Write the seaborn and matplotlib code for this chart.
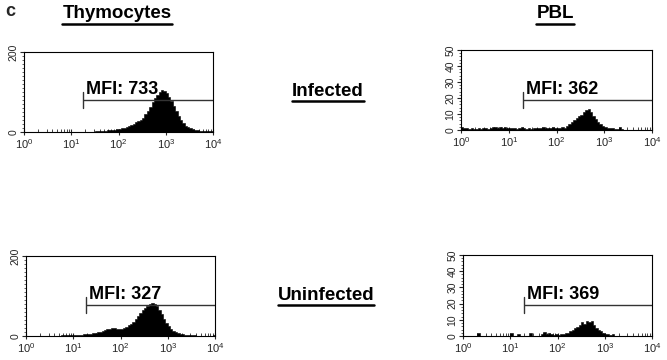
import numpy as np
import matplotlib
matplotlib.use("Agg")
import matplotlib.pyplot as plt
import matplotlib.ticker as mticker
from matplotlib.lines import Line2D
import seaborn as sns

sns.set_style("white")
plt.rcParams["font.family"] = ["Liberation Sans", "DejaVu Sans"]
plt.rcParams["mathtext.fontset"] = "custom"
plt.rcParams["mathtext.rm"] = "Liberation Sans"
plt.rcParams["mathtext.bf"] = "Liberation Sans:bold"

# bin centres in log10 units (80 channels over 4 decades)
BIN_LOG = np.arange(80) * 0.05 + 0.025

THY_INF = [0] * 26 + [
    0.5, 0.5, 1, 1, 1.5, 2, 2.5, 3, 3.5, 4, 4.5, 5, 6, 7,
    8, 9, 11, 12, 14, 17, 20, 24, 27, 30, 36, 44, 53, 62, 74, 84,
    92, 99, 106, 103, 98, 88, 78, 66, 52, 40, 30, 22, 16, 12, 9,
    7, 5, 4, 3.5, 3, 2.5, 2, 2, 3]

PBL_INF = [
    2, 1, 1, 0.5, 1, 0.5, 0.5, 1, 0.5, 1.5, 1, 0.5, 1, 2, 2, 1.5, 2, 1, 2, 1.5,
    1, 1.5, 1, 0.5, 1, 2, 1, 0.5, 1, 0.5, 1.5, 1, 1.5, 1, 2, 1, 1.5, 1, 2, 1,
    1.5, 1, 2, 1.5, 2.5, 3.5, 5, 6, 7.5, 8.5, 9.5, 11, 12.5, 13, 11.5, 9, 7, 5,
    3.5, 2.5, 2, 1.5, 1, 1, 0.5, 0.5, 2, 0.5] + [0] * 12

THY_UNINF = [0] * 12 + [
    0.5, 1, 1, 1.5, 1.5, 2, 2, 2.5, 2.5, 3, 3, 3.5, 4, 4.5, 5, 6, 7, 8,
    10, 11, 13, 15, 17, 18, 19, 20, 18, 17, 18, 20, 23, 27, 31, 36, 42, 50,
    57, 64, 70, 76, 80, 83, 80, 74, 65, 54, 42, 32, 24, 18, 13, 10, 7, 5, 4,
    3, 2.5, 2, 1.5, 1.5, 1, 1, 1, 0.5, 0.5, 0.5, 1, 1.5]

PBL_UNINF = [
    0, 0, 0, 0, 0, 0, 2, 0, 0, 0, 0, 0, 0, 0, 0, 0, 0, 0, 0, 0,
    2, 0, 0, 1.5, 0, 0, 0, 0, 2, 0, 0, 0, 0, 1.5, 2.5, 1, 2, 1, 0.5, 1,
    0.5, 1.5, 1, 2, 2, 3, 4, 5, 5.5, 7, 8.5, 7.5, 9, 8.5, 9, 7, 5, 4, 3, 2,
    1.5, 1, 0.5, 1] + [0] * 16

MFI = ["733", "362", "327", "369"]
GATE_LOG = [1.25, 1.30, 1.27, 1.29]
GATE_Y = [80, 18.75, 77.5, 19]
YMAX = [200, 50, 200, 50]

fig = plt.figure(figsize=(6.67, 3.6), dpi=100)
W, H = 667, 360
boxes = [(24, 132, 189, 80), (461, 130, 191, 80), (26, 336, 189, 80), (463, 336, 189, 81)]
counts = [THY_INF, PBL_INF, THY_UNINF, PBL_UNINF]

for k, (l, b, w, h) in enumerate(boxes):
    ax = fig.add_axes([l / W, (H - b) / H, w / W, h / H])
    sns.histplot(x=10 ** BIN_LOG, weights=counts[k], bins=80, binrange=(0, 4),
                 log_scale=True, element="step", fill=True, color="black",
                 alpha=1, linewidth=0.4, ax=ax)
    ax.set_xlim(1, 1e4)
    ax.set_ylim(0, YMAX[k])
    ax.set_xlabel("")
    ax.set_ylabel("")
    ax.xaxis.set_major_locator(mticker.LogLocator(base=10, numticks=10))
    ax.xaxis.set_minor_locator(mticker.LogLocator(base=10, subs=np.arange(2, 10), numticks=20))
    ax.xaxis.set_minor_formatter(mticker.NullFormatter())
    if YMAX[k] == 200:
        ax.set_yticks([0, 200])
        ax.yaxis.set_minor_locator(mticker.MultipleLocator(10))
    else:
        ax.set_yticks([0, 10, 20, 30, 40, 50])
        ax.yaxis.set_minor_locator(mticker.MultipleLocator(2))
    ax.tick_params(axis="x", which="major", direction="inout", length=5, width=0.8,
                   labelsize=8, pad=1, bottom=True)
    ax.tick_params(axis="x", which="minor", direction="in", length=2.5, width=0.6, bottom=True)
    ax.tick_params(axis="y", which="major", direction="out", length=3, width=0.8,
                   labelsize=7.5, pad=1, labelrotation=90, left=True)
    ax.tick_params(axis="y", which="minor", direction="out", length=1.5, width=0.5, left=True)
    for lbl in ax.get_yticklabels():
        lbl.set_va("center")
    for sp in ax.spines.values():
        sp.set_visible(True)
        sp.set_color("black")
        sp.set_linewidth(0.8)

    gx = 10 ** GATE_LOG[k]
    gy = GATE_Y[k]
    dv = YMAX[k] * 0.1
    ax.plot([gx, 1e4], [gy, gy], color="#333333", lw=1, solid_capstyle="butt")
    ax.plot([gx, gx], [gy - dv, gy + dv], color="#333333", lw=1)
    ax.annotate(f"MFI: {MFI[k]}", (gx, gy), xytext=(2, 1.5), textcoords="offset points",
                fontsize=13, fontweight="bold", ha="left", va="bottom", color="black")

fig.text(10 / W, 1 - 12 / H, "c", fontsize=13, fontweight="bold", ha="center", va="center")

headers = [("Thymocytes", 117, 14), ("PBL", 555, 14),
           ("Infected", 328, 91), ("Uninfected", 326, 295)]
texts = []
for s, x, y in headers:
    t = fig.text(x / W, 1 - y / H, s, fontsize=13.5, fontweight="bold",
                 ha="center", va="center", color="black")
    texts.append(t)

fig.canvas.draw()
r = fig.canvas.get_renderer()
for t in texts:
    bb = t.get_window_extent(renderer=r)
    yline = (bb.y0 - 1.5) / (H)
    fig.add_artist(Line2D([bb.x0 / W, bb.x1 / W], [yline, yline],
                          color="black", lw=1.8, transform=fig.transFigure))

plt.savefig("out.png", dpi=100)
